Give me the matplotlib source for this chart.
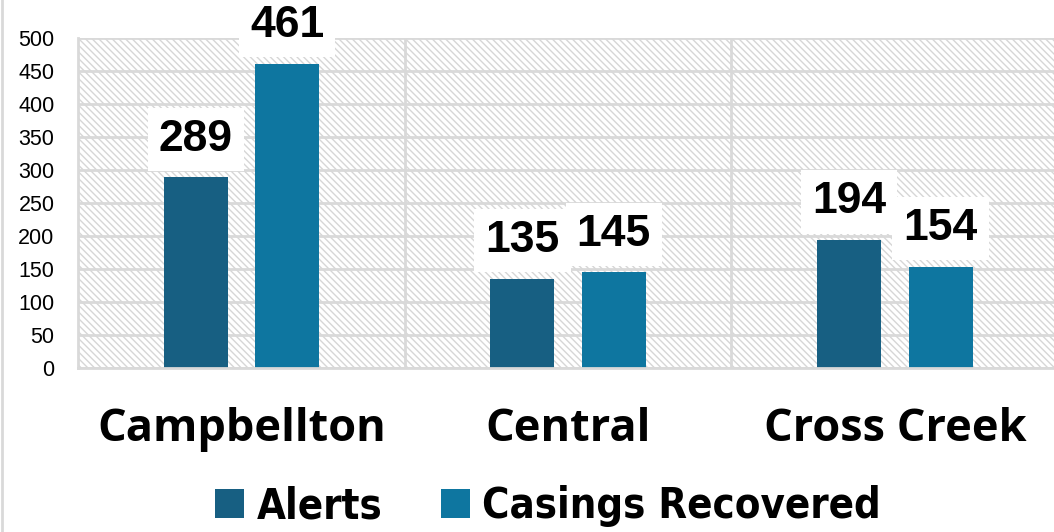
import matplotlib
matplotlib.use("Agg")
import matplotlib.pyplot as plt
from matplotlib.patches import Rectangle, Patch
import numpy as np

## Data
categories = ["Campbellton", "Central", "Cross Creek"]
alerts = [289, 135, 194]
casings = [461, 145, 154]
series_names = ["Alerts", "Casings Recovered"]
colors = ["#175f82", "#0e76a0"]
y_ticks = [0, 50, 100, 150, 200, 250, 300, 350, 400, 450, 500]

plt.rcParams["font.family"] = ["Liberation Sans", "DejaVu Sans"]
plt.rcParams["hatch.linewidth"] = 1.0
plt.rcParams["hatch.color"] = "#d6d6d6"

fig = plt.figure(figsize=(10.54, 5.32), dpi=100)
ax = fig.add_axes([0.074, 0.308, 0.930, 0.620])

x = np.arange(len(categories))
ax.set_xlim(-0.5, 2.5)
ax.set_ylim(0, 500)

# hatched plot background
ax.add_patch(Rectangle((0, 0), 1, 1, transform=ax.transAxes, facecolor="white",
                       edgecolor="#d6d6d6", hatch="\\\\\\\\\\", linewidth=0, zorder=0))

# grid
for t in y_ticks:
    ax.axhline(t, color="#d9d9d9", linewidth=2, zorder=1)
for b in [0.5, 1.5]:
    ax.axvline(b, color="#d9d9d9", linewidth=2, zorder=1)

width = 0.196
offset = 0.14
ax.bar(x - offset, alerts, width, color=colors[0], zorder=2)
ax.bar(x + offset, casings, width, color=colors[1], zorder=2)

for xs, vals in [(x - offset, alerts), (x + offset, casings)]:
    for xi, v in zip(xs, vals):
        ax.text(xi, v + 58, str(v), ha="center", va="center", fontsize=32, fontweight="bold",
                bbox=dict(facecolor="white", edgecolor="none", pad=8), zorder=3, clip_on=False)

ax.set_yticks(y_ticks)
ax.tick_params(axis="y", length=0, labelsize=15.5, pad=17)
ax.set_xticks(x)
ax.set_xticklabels(categories, fontsize=32.5, fontweight="bold", family=["Open Sans", "DejaVu Sans"])
ax.tick_params(axis="x", length=0, pad=28)
for s in ["top", "right"]:
    ax.spines[s].set_visible(False)
for s in ["left", "bottom"]:
    ax.spines[s].set_color("#d9d9d9")
    ax.spines[s].set_linewidth(2)

# chart border on the left
fig.add_artist(plt.Line2D([0.0015, 0.0015], [0, 1], transform=fig.transFigure, color="#d9d9d9", linewidth=2))

handles = [Patch(facecolor=c) for c in colors]
fig.legend(handles, series_names, loc="lower center", bbox_to_anchor=(0.52, -0.062), ncol=2,
           frameon=False,
           prop={"family": ["DejaVu Sans"], "stretch": "condensed", "weight": "bold", "size": 30},
           handlelength=0.7, handleheight=0.7, handletextpad=0.3, columnspacing=1.4)

fig.savefig("out.png", dpi=100)
